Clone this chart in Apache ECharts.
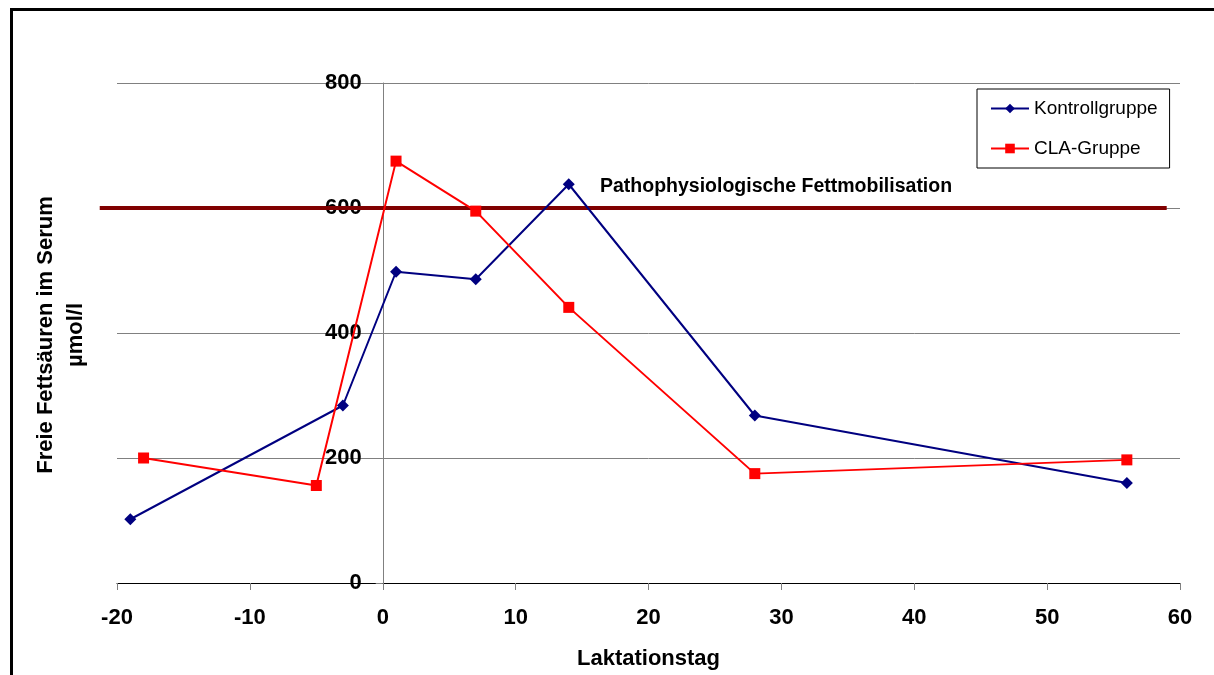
<!DOCTYPE html>
<html>
<head>
<meta charset="utf-8">
<script src="https://cdn.jsdelivr.net/npm/echarts@6/dist/echarts.min.js"></script>
<style>
  html, body { margin: 0; padding: 0; background: #fff; }
  #chart { width: 1214px; height: 675px; }
</style>
</head>
<body>
<div id="chart"></div>
<script>
// Laktationstag / Freie Fettsäuren (µmol/l)
const kontrollTage = [-19, -3, 1, 7, 14, 28, 56];
const kontrollWerte = [102, 284, 498, 486, 638, 268, 160];
const claTage = [-18, -5, 1, 7, 14, 28, 56];
const claWerte = [200, 156, 675, 595, 441, 175, 197];
// Grenzlinie pathophysiologische Fettmobilisation
const grenzeX = [-21.3, 59];
const grenzeWert = 600;
const xTicks = [-20, -10, 0, 10, 20, 30, 40, 50, 60];
const yTicks = [0, 200, 400, 600, 800];

const pair = (xs, ys) => xs.map((x, i) => [x, ys[i]]);
const font = 'Arial, "Liberation Sans", sans-serif';

const gridLeft = 117, gridRight = 34;
const plotW = 1214 - gridLeft - gridRight;
const xMin = xTicks[0], xMax = xTicks[xTicks.length - 1];
// y-Achse sitzt bei Laktationstag 0 (mit Beschriftung daneben)
const yAxisShift = plotW * (0 - xMin) / (xMax - xMin);

const myChart = echarts.init(document.getElementById('chart'));
const option = {
  animation: false,
  backgroundColor: '#fff',
  textStyle: { fontFamily: font },
  grid: { left: gridLeft, right: gridRight, top: 83, bottom: 88 },
  legend: {
    orient: 'vertical',
    left: 977, top: 89,
    padding: [10, 12, 10, 13],
    itemGap: 21,
    itemWidth: 38, itemHeight: 12,
    borderColor: '#000', borderWidth: 1,
    data: ['Kontrollgruppe', 'CLA-Gruppe'],
    textStyle: { fontSize: 19, color: '#000', fontFamily: font }
  },
  xAxis: {
    type: 'value',
    min: xMin, max: xMax, interval: 10,
    name: 'Laktationstag',
    nameLocation: 'middle', nameGap: 65,
    nameTextStyle: { fontSize: 22, fontWeight: 'bold', color: '#000' },
    axisLine: { onZero: false, lineStyle: { color: '#000', width: 1 } },
    axisTick: { length: 7, lineStyle: { color: '#808080' } },
    axisLabel: { fontSize: 22, fontWeight: 'bold', color: '#000', margin: 24 },
    splitLine: { show: false }
  },
  yAxis: {
    type: 'value',
    min: yTicks[0], max: yTicks[yTicks.length - 1], interval: 200,
    offset: -yAxisShift,
    axisLine: { show: true, onZero: false, lineStyle: { color: '#808080', width: 1 } },
    axisTick: { show: true, length: 7, lineStyle: { color: '#808080' } },
    axisLabel: { fontSize: 22, fontWeight: 'bold', color: '#000', margin: 21 },
    splitLine: { lineStyle: { color: '#808080', width: 1 } }
  },
  graphic: [
    { id: 'rahmen', type: 'rect', left: 9, top: 7, silent: true,
      shape: { width: 1300, height: 800 },
      style: { fill: 'none', stroke: '#000', lineWidth: 3 } },
    { id: 'ytitel', type: 'text', rotation: Math.PI / 2, x: 61, y: 335,
      style: { text: 'Freie Fettsäuren im Serum\nµmol/l', font: 'bold 22px ' + font,
               fill: '#000', align: 'center', verticalAlign: 'middle', lineHeight: 30 } },
    { id: 'grenztext', type: 'text', left: 600, top: 177, z: 10,
      style: { text: 'Pathophysiologische Fettmobilisation', font: 'bold 19.5px ' + font, fill: '#000' } }
  ],
  series: [
    {
      name: 'Kontrollgruppe', type: 'line',
      data: pair(kontrollTage, kontrollWerte),
      symbol: 'diamond', symbolSize: 12,
      color: '#000080',
      lineStyle: { color: '#000080', width: 2 },
      itemStyle: { color: '#000080' },
      z: 3
    },
    {
      name: 'CLA-Gruppe', type: 'line',
      data: pair(claTage, claWerte),
      symbol: 'rect', symbolSize: 11,
      color: '#ff0000',
      lineStyle: { color: '#ff0000', width: 2 },
      itemStyle: { color: '#ff0000' },
      z: 4
    }
  ]
};
option && myChart.setOption(option);

// Grenzlinie ragt links über die Zeichenfläche hinaus -> über die Achsen-Skala umrechnen
const p1 = myChart.convertToPixel({ gridIndex: 0 }, [grenzeX[0], grenzeWert]);
const p2 = myChart.convertToPixel({ gridIndex: 0 }, [grenzeX[1], grenzeWert]);
myChart.setOption({
  graphic: [{
    id: 'grenze', type: 'line', silent: true, z: 1,
    shape: { x1: p1[0], y1: p1[1], x2: p2[0], y2: p2[1] },
    style: { stroke: '#800000', lineWidth: 4 }
  }]
});
</script>
</body>
</html>
